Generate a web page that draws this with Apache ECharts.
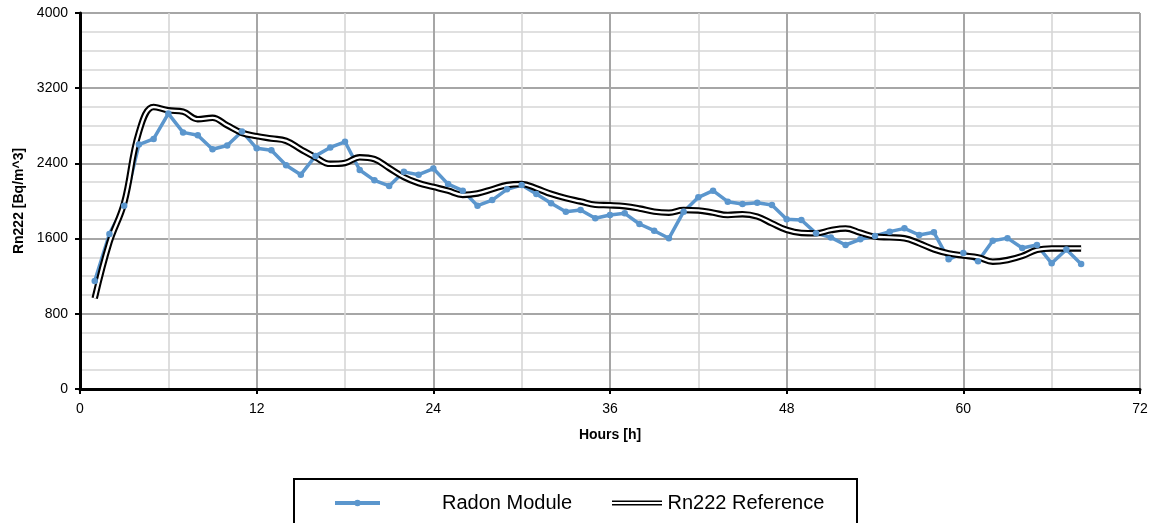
<!DOCTYPE html>
<html><head><meta charset="utf-8">
<script src="https://cdn.jsdelivr.net/npm/echarts@6/dist/echarts.min.js"></script>
<style>html,body{margin:0;padding:0;background:#fff}#c{width:1159px;height:523px}</style>
</head><body><div id="c"></div>
<script>
const hours = [1,2,3,4,5,6,7,8,9,10,11,12,13,14,15,16,17,18,19,20,21,22,23,24,25,26,27,28,29,30,31,32,33,34,35,36,37,38,39,40,41,42,43,44,45,46,47,48,49,50,51,52,53,54,55,56,57,58,59,60,61,62,63,64,65,66,67,68];
const radonModule = [1150,1650,1950,2600,2660,2930,2730,2700,2550,2590,2740,2560,2540,2380,2280,2480,2570,2630,2330,2220,2160,2310,2280,2345,2180,2110,1950,2010,2124,2170,2074,1975,1886,1904,1816,1851,1869,1755,1684,1603,1886,2039,2110,1993,1968,1982,1957,1805,1798,1656,1613,1532,1592,1628,1674,1709,1638,1667,1380,1447,1360,1578,1605,1500,1532,1337,1484,1330];
const rn222Reference = [965,1560,1980,2730,3000,2965,2950,2870,2885,2805,2725,2690,2665,2640,2550,2465,2395,2405,2465,2445,2350,2255,2190,2150,2110,2065,2080,2125,2170,2180,2135,2075,2030,1995,1960,1955,1945,1920,1887,1876,1904,1900,1876,1851,1860,1835,1762,1692,1660,1656,1690,1708,1663,1621,1613,1603,1550,1486,1443,1420,1400,1355,1372,1415,1479,1496,1496,1496];
const xTickLabels = [0,12,24,36,48,60,72];
const yTickLabels = [0,800,1600,2400,3200,4000];

const FONT = "'Liberation Sans', Arial, sans-serif";
const chart = echarts.init(document.getElementById('c'), null, {renderer:'canvas'});
const radonPts = hours.map((h,i)=>[h, radonModule[i]]);
const refPts = hours.map((h,i)=>[h, rn222Reference[i]]);

const axisCommon = {
  axisLine:{show:true, onZero:false, lineStyle:{color:'#000', width:3}},
  axisTick:{show:true, length:5, lineStyle:{color:'#000', width:2}},
  axisLabel:{color:'#000', fontSize:14, fontFamily:FONT, formatter:function(v){return String(v);}},
  splitLine:{show:true, lineStyle:{color:'#a6a6a6', width:2}},
  minorTick:{show:false},
  minorSplitLine:{show:true, lineStyle:{color:'#d6d6d6', width:1.6}},
  nameTextStyle:{color:'#000', fontSize:14, fontWeight:'bold', fontFamily:FONT}
};

chart.setOption({
  animation:false,
  backgroundColor:'#fff',
  grid:{left:80, right:19, top:13, bottom:134, containLabel:false},
  xAxis: Object.assign({}, axisCommon, {
    type:'value', min:xTickLabels[0], max:xTickLabels[xTickLabels.length-1],
    interval:xTickLabels[1]-xTickLabels[0],
    name:'Hours [h]', nameLocation:'middle', nameGap:39,
    minorTick:{show:false, splitNumber:2},
    axisLabel:Object.assign({}, axisCommon.axisLabel, {margin:13})
  }),
  yAxis: Object.assign({}, axisCommon, {
    type:'value', min:yTickLabels[0], max:yTickLabels[yTickLabels.length-1],
    interval:yTickLabels[1]-yTickLabels[0],
    name:'Rn222 [Bq/m^3]', nameLocation:'middle', nameGap:51,
    minorTick:{show:false, splitNumber:4},
    axisLabel:Object.assign({}, axisCommon.axisLabel, {margin:12})
  }),
  legend:[
    {
      data:['Radon Module'], left:333, top:493, padding:0,
      itemWidth:45, itemHeight:8,
      lineStyle:{width:4},
      formatter:function(n){return '{g| }'+n;},
      textStyle:{color:'#000', fontSize:20, fontFamily:FONT, rich:{g:{width:57}}}
    },
    {
      data:[{name:'Rn222 Reference', icon:'path://M0,0H50V1.6H0Z M0,3.6H50V5.2H0Z'}],
      left:612, top:493, padding:0,
      itemWidth:51, itemHeight:5.2,
      textStyle:{color:'#000', fontSize:20, fontFamily:FONT}
    }
  ],
  graphic:[{
    type:'rect', silent:true, z:100,
    shape:{x:294, y:479, width:563, height:70},
    style:{fill:'none', stroke:'#000', lineWidth:2}
  }],
  series:[
    {
      name:'Radon Module', type:'line', data:radonPts,
      itemStyle:{color:'#5b96cd'},
      lineStyle:{color:'#5b96cd', width:3.5},
      symbol:'circle', symbolSize:6.5, showSymbol:true
    },
    {
      name:'Rn222 Reference', type:'line', data:refPts, smooth:0.4,
      itemStyle:{color:'#000'},
      lineStyle:{color:'#000', width:6.5},
      symbol:'none'
    },
    {
      name:'Rn222 Reference inner', type:'line', data:refPts, smooth:0.4,
      itemStyle:{color:'#fff'},
      lineStyle:{color:'#fff', width:2.3},
      symbol:'none', silent:true
    }
  ]
});
</script></body></html>
